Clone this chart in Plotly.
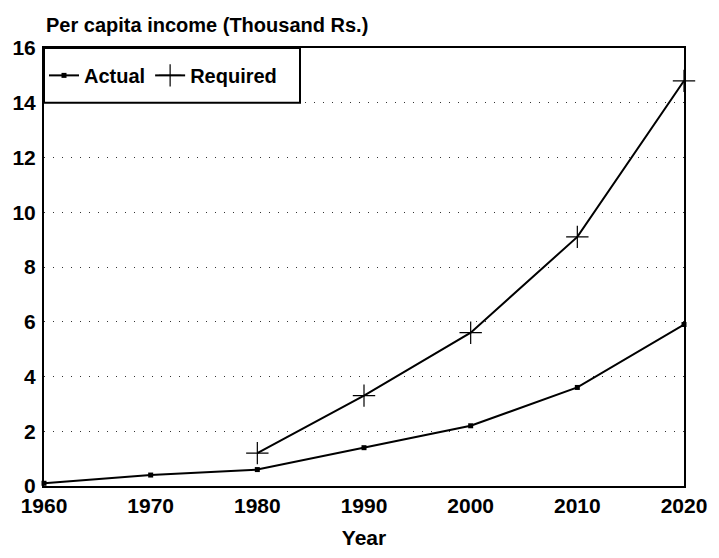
import plotly.graph_objects as go

years_actual = [1960, 1970, 1980, 1990, 2000, 2010, 2020]
income_actual = [0.1, 0.4, 0.6, 1.4, 2.2, 3.6, 5.9]

years_required = [1980, 1990, 2000, 2010, 2020]
income_required = [1.2, 3.3, 5.6, 9.1, 14.8]

x_ticks = [1960, 1970, 1980, 1990, 2000, 2010, 2020]
y_ticks = [0, 2, 4, 6, 8, 10, 12, 14, 16]

FONT = "Liberation Sans, Arial, Helvetica, sans-serif"

fig = go.Figure()
fig.add_trace(go.Scatter(
    x=years_actual, y=income_actual, name="Actual",
    mode="lines+markers",
    line=dict(color="black", width=2),
    marker=dict(symbol="square", size=5, color="black"),
    cliponaxis=False,
))
fig.add_trace(go.Scatter(
    x=years_required, y=income_required, name="Required",
    mode="lines+markers",
    line=dict(color="black", width=2),
    marker=dict(symbol="cross-thin-open", size=16, line=dict(color="black", width=1.2)),
    cliponaxis=False,
))

fig.update_layout(
    width=719, height=558,
    margin=dict(l=39, r=25, t=48, b=70),
    paper_bgcolor="white", plot_bgcolor="white",
    font=dict(family=FONT, size=20, color="black", weight="bold"),
    showlegend=True,
    legend=dict(
        orientation="h", x=0.0, y=0.9375, xanchor="left", yanchor="middle",
        bgcolor="rgba(0,0,0,0)", borderwidth=0,
        font=dict(size=20, weight="bold"), itemwidth=30,
    ),
    shapes=[dict(
        type="rect", xref="x", yref="y", x0=1960, x1=1984, y0=14, y1=16,
        line=dict(color="black", width=2), fillcolor="white", layer="above",
    )],
    annotations=[dict(
        text="Per capita income (Thousand Rs.)", xref="paper", yref="paper",
        x=0.0, y=1, xanchor="left", yanchor="bottom", yshift=10,
        showarrow=False, font=dict(size=20, family=FONT, color="black", weight="bold"),
    )],
)
fig.update_xaxes(
    range=[1960, 2020], tickvals=x_ticks, ticktext=[str(v) for v in x_ticks],
    showgrid=False, zeroline=False,
    showline=True, linecolor="black", linewidth=2, mirror=True,
    ticks="", tickfont=dict(size=21, weight="bold"), ticklabeloverflow="allow",
    title=dict(text="Year", font=dict(size=21, weight="bold"), standoff=14),
)
fig.update_yaxes(
    range=[0, 16], tickvals=y_ticks, ticktext=[str(v) for v in y_ticks],
    showgrid=True, gridcolor="#333333", gridwidth=1, griddash="1px,8px",
    zeroline=False,
    showline=True, linecolor="black", linewidth=2, mirror=True,
    ticks="", tickfont=dict(size=21, weight="bold"), ticklabelstandoff=2,
    ticklabeloverflow="allow",
)

fig.write_html(
    "out.html",
    config={"displayModeBar": False},
    post_script="document.body.style.margin='0';",
)
